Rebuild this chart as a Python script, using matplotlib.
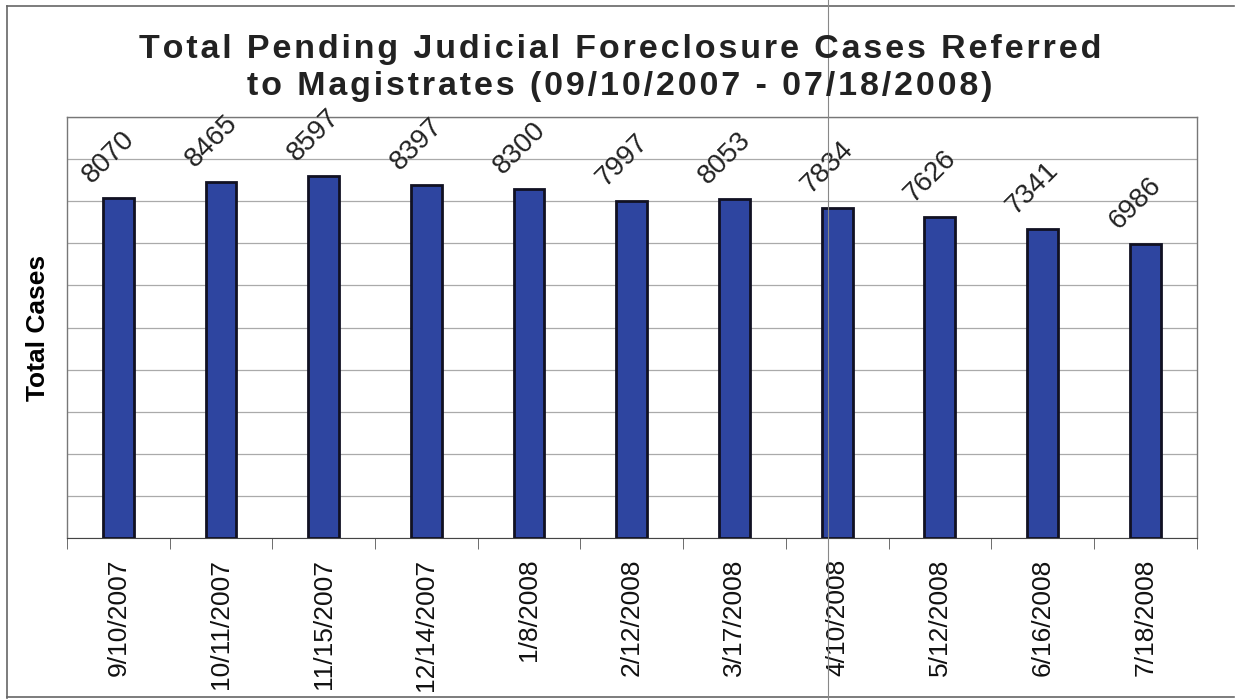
import matplotlib.pyplot as plt
from matplotlib.lines import Line2D

# data
dates = ["9/10/2007", "10/11/2007", "11/15/2007", "12/14/2007", "1/8/2008",
         "2/12/2008", "3/17/2008", "4/10/2008", "5/12/2008", "6/16/2008",
         "7/18/2008"]
cases = [8070, 8465, 8597, 8397, 8300, 7997, 8053, 7834, 7626, 7341, 6986]

title_lines = ["Total Pending Judicial Foreclosure Cases Referred",
               "to Magistrates (09/10/2007 - 07/18/2008)"]

plt.rcParams['font.family'] = ['Liberation Sans', 'DejaVu Sans']


def spaced(s):
    # mimic the wide letter spacing of the original title
    return "\u200a".join(s)


fig = plt.figure(figsize=(12.4, 7), dpi=100)
ax = fig.add_axes([0.054, 0.2314, 0.911, 0.6014])

x = range(len(dates))
ax.bar(x, cases, width=0.3, color="#2E45A0", edgecolor="#111122", linewidth=2, zorder=3)

for xi, v in zip(x, cases):
    ax.annotate(str(v), (xi, v), xytext=(-16, 7), textcoords="offset points",
                rotation=45, ha="left", va="bottom", fontsize=20,
                rotation_mode="anchor", color="#222222")

ax.set_xlim(-0.5, len(dates) - 0.5)
ax.set_ylim(0, 10000)
ax.set_yticks(range(0, 10001, 1000))
ax.set_yticklabels([])
ax.tick_params(axis="y", length=0)
ax.grid(axis="y", color="#aaaaaa", linewidth=0.9, zorder=0)

ax.set_xticks(x)
ax.set_xticklabels(dates, rotation=90, fontsize=19, color="#111111")
ax.tick_params(axis="x", length=0, pad=15)
# category boundary ticks
ax.set_xticks([i - 0.5 for i in range(len(dates) + 1)], minor=True)
ax.tick_params(axis="x", which="minor", length=8, direction="out", color="#555555")

for s in ["top", "right", "left"]:
    ax.spines[s].set_color("#777777")
    ax.spines[s].set_linewidth(1)
ax.spines["bottom"].set_color("#444444")

ax.set_ylabel("Total Cases", fontsize=19, fontweight="bold", labelpad=9)

fig.text(0.5, 0.903, spaced(title_lines[0]) + "\n" + spaced(title_lines[1]),
         ha="center", va="center", fontsize=24.5, fontweight="bold",
         linespacing=1.22, color="#222222")

# scanned page frame and crease
fig.add_artist(Line2D([0.006, 0.006], [0.003, 0.992], color="#666666", lw=1.2))
fig.add_artist(Line2D([0.006, 0.995], [0.992, 0.992], color="#666666", lw=1.2))
fig.add_artist(Line2D([0.006, 0.995], [0.005, 0.005], color="#666666", lw=1.2))
fig.add_artist(Line2D([0.668, 0.668], [0.0, 1.0], color="#888888", lw=0.8))

fig.savefig("out.png", dpi=100)
